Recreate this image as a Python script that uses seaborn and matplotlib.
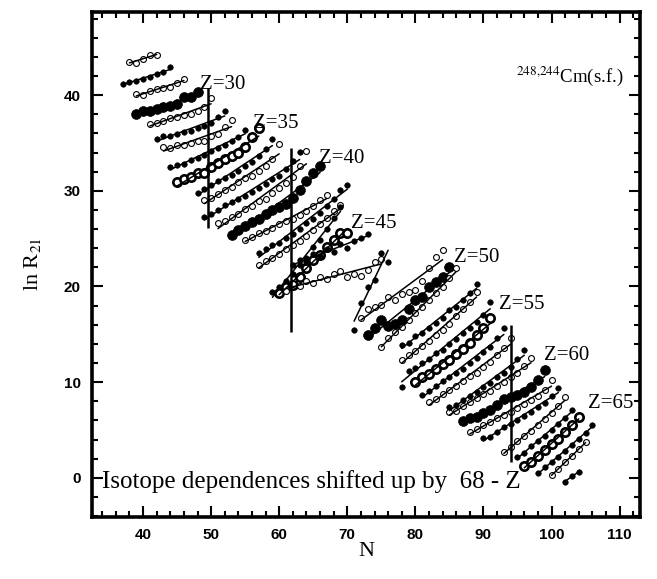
import numpy as np
import pandas as pd
import seaborn as sns
import matplotlib.pyplot as plt
from matplotlib.ticker import MultipleLocator

# isotope chains: proton number, first neutron number, shifted ln R21 values
Z = list(range(27, 69))
N_FIRST = [38, 37, 39, 39, 41, 42, 43, 44, 45, 48,
           49, 49, 51, 53, 55, 57, 57, 59, 60, 62,
           61, 71, 72, 73, 75, 78, 78, 78, 80, 81,
           82, 85, 85, 87, 88, 90, 93, 95, 96, 98,
           100, 102]
LN_R21 = [
    [43.5, 43.4, 43.8, 44.2, 44.2],                                            # 27
    [41.2, 41.4, 41.5, 41.7, 41.9, 42.2, 42.4, 42.9],                          # 28
    [40.1, 40.0, 40.4, 40.6, 40.8, 40.9, 41.3, 41.7],                          # 29
    [38.0, 38.3, 38.4, 38.6, 38.8, 38.9, 39.1, 39.8, 39.8, 40.3],              # 30
    [37.0, 37.1, 37.3, 37.6, 37.7, 37.9, 38.0, 38.3, 38.8, 39.7],              # 31
    [35.4, 35.7, 35.7, 35.9, 36.2, 36.3, 36.6, 36.8, 37.1, 37.7, 38.3],        # 32
    [34.6, 34.5, 34.8, 34.8, 35.0, 35.2, 35.2, 35.7, 35.9, 36.7, 37.4],        # 33
    [32.5, 32.7, 32.8, 33.2, 33.4, 33.8, 34.2, 34.5, 34.8, 35.2, 35.6, 36.4],  # 34
    [30.9, 31.2, 31.5, 31.9, 31.9, 32.5, 32.9, 33.3, 33.6, 34.0, 34.6, 35.6, 36.6],  # 35
    [29.8, 30.2, 30.6, 31.0, 31.3, 31.7, 32.1, 32.6, 33.0, 33.6, 34.4, 35.4],  # 36
    [29.0, 29.3, 29.7, 30.1, 30.4, 30.9, 31.3, 31.6, 32.1, 32.6, 33.3, 34.9],  # 37
    [27.3, 27.6, 28.0, 28.5, 28.8, 29.1, 29.5, 29.9, 30.3, 30.7, 31.2, 31.6, 32.3, 33.1, 34.1],  # 38
    [26.6, 26.9, 27.3, 27.6, 28.1, 28.4, 28.9, 29.2, 29.8, 30.3, 30.8, 31.5, 32.6, 34.2],  # 39
    [25.4, 25.9, 26.3, 26.7, 27.1, 27.6, 28.0, 28.3, 28.6, 29.3, 30.1, 31.0, 31.9, 32.6],  # 40
    [24.9, 25.2, 25.6, 25.8, 26.1, 26.5, 26.8, 27.1, 27.5, 27.9, 28.4, 29.0, 29.6],  # 41
    [23.5, 23.9, 24.3, 24.6, 25.1, 25.5, 26.0, 26.6, 27.1, 27.7, 28.4, 29.2, 30.1, 30.6],  # 42
    [22.3, 22.7, 23.0, 23.4, 23.9, 24.3, 24.8, 25.3, 25.9, 26.5, 27.2, 27.9, 28.5],  # 43
    [19.4, 19.9, 20.6, 21.3, 22.3, 23.0, 24.1, 24.9, 26.0, 27.2, 28.3],        # 44
    [19.3, 19.9, 20.2, 21.0, 21.9, 22.8, 23.3, 24.1, 24.9, 25.6, 25.6],        # 45
    [22.2, 22.8, 22.6, 23.4, 23.2, 23.9, 23.6, 24.4, 24.0, 24.8, 25.1, 25.5],  # 46
    [19.5, 20.3, 20.0, 20.6, 20.4, 21.0, 20.8, 21.3, 21.6, 21.0, 21.3, 21.1, 21.7, 22.6, 22.9],  # 47
    [15.5, 18.3, 19.9, 20.7, 23.5, 22.6],                                      # 48
    [16.7, 17.6, 17.9, 18.1, 18.9, 18.6, 19.2, 19.4, 19.6, 20.6, 21.9, 23.1, 23.8],  # 49
    [14.9, 15.7, 16.5, 15.9, 16.1, 16.5, 17.6, 18.6, 18.9, 19.9, 20.5, 21.0, 22.0],  # 50
    [13.7, 14.6, 15.2, 15.8, 16.5, 17.2, 17.9, 18.6, 19.3, 19.9, 20.9, 21.9],  # 51
    [13.9, 14.1, 14.8, 15.1, 15.7, 16.2, 16.7, 17.5, 17.9, 18.6, 19.3, 20.3],  # 52
    [12.3, 12.8, 13.3, 13.8, 14.3, 14.9, 15.5, 16.1, 16.9, 17.6, 18.4, 19.4],  # 53
    [9.5, 11.2, 11.5, 12.0, 12.4, 13.0, 13.4, 14.0, 14.5, 15.1, 15.7, 16.3, 17.0, 18.4],  # 54
    [10.0, 10.5, 10.9, 11.4, 11.9, 12.3, 12.9, 13.5, 14.1, 14.9, 15.7, 16.7],  # 55
    [8.7, 9.1, 9.6, 10.1, 10.5, 11.0, 11.4, 12.0, 12.5, 13.1, 13.7, 14.6, 15.7],  # 56
    [7.9, 8.2, 8.8, 9.2, 9.6, 10.1, 10.6, 11.0, 11.6, 12.1, 12.8, 13.6, 14.6],  # 57
    [7.4, 7.6, 8.1, 8.6, 9.0, 9.5, 9.9, 10.5, 11.0, 11.6, 12.4, 13.4],         # 58
    [6.9, 7.0, 7.5, 7.9, 8.3, 8.8, 9.1, 9.6, 10.0, 10.5, 11.0, 11.7, 12.5],    # 59
    [5.9, 6.3, 6.4, 6.8, 7.1, 7.6, 8.2, 8.4, 8.7, 9.0, 9.5, 10.2, 11.3],       # 60
    [4.8, 5.1, 5.5, 5.8, 6.2, 6.6, 6.9, 7.3, 7.7, 8.1, 8.6, 9.2, 10.2],        # 61
    [4.2, 4.3, 4.8, 5.3, 5.6, 6.0, 6.5, 6.9, 7.4, 7.8, 8.5, 9.4],              # 62
    [2.7, 3.2, 3.8, 4.4, 4.9, 5.5, 6.1, 6.8, 7.5, 8.4],                        # 63
    [2.2, 2.6, 3.3, 3.8, 4.4, 5.0, 5.6, 6.3, 7.1],                             # 64
    [1.2, 1.7, 2.3, 2.9, 3.5, 4.1, 4.8, 5.5, 6.4],                             # 65
    [0.5, 1.1, 1.6, 2.2, 2.8, 3.4, 4.1, 4.7, 5.5],                             # 66
    [0.3, 0.9, 1.6, 2.3, 3.0, 3.7],                                            # 67
    [-0.4, 0.2, 0.6],                                                          # 68
]

# vertical markers at the neutron shells
SHELL_N = [49.6, 61.7, 94]
SHELL_LO = [26.1, 15.2, 1.7]
SHELL_HI = [40.8, 34.5, 16.0]

# "Z=.." labels
LABEL_Z = [30, 35, 40, 45, 50, 55, 60, 65]
LABEL_N = [48.3, 56.1, 65.9, 70.6, 85.7, 92.3, 98.9, 105.4]
LABEL_Y = [40.6, 36.6, 32.9, 26.1, 22.6, 17.6, 12.3, 7.3]

rows = []
for z, n0, vals in zip(Z, N_FIRST, LN_R21):
    for i, v in enumerate(vals):
        rows.append({"Z": z, "N": n0 + i, "lnR": v})
df = pd.DataFrame(rows)

sns.set_theme(style="ticks", rc={
    "axes.edgecolor": "black", "xtick.color": "black", "ytick.color": "black",
    "text.color": "black", "axes.labelcolor": "black",
})
plt.rcParams['mathtext.fontset'] = 'stix'

fig = plt.figure(figsize=(6.57, 5.79), dpi=100)
ax = fig.add_axes([92 / 657, 62 / 579, 548 / 657, 505 / 579])

for z, g in df.groupby("Z"):
    big = z % 5 == 0
    filled = z % 2 == 0
    if big and filled:
        kw = dict(s=50, color="black", edgecolor="black", linewidth=0.5)
    elif big:
        kw = dict(s=36, color="white", edgecolor="black", linewidth=1.9)
    elif filled:
        kw = dict(s=16, color="black", edgecolor="black", linewidth=0.4)
    else:
        kw = dict(s=18, color="white", edgecolor="black", linewidth=0.8)
    sns.scatterplot(data=g, x="N", y="lnR", marker="o", ax=ax, zorder=2,
                    legend=False, **kw)
    sns.regplot(data=g, x="N", y="lnR", scatter=False, ci=None, ax=ax,
                line_kws=dict(color="black", lw=1.1, zorder=3))

ax.vlines(SHELL_N, SHELL_LO, SHELL_HI, color="black", lw=1.8, zorder=4)

serif = "Liberation Serif"
for z, n, y in zip(LABEL_Z, LABEL_N, LABEL_Y):
    ax.text(n, y, f"Z={z}", family=serif, fontsize=15, ha="left", va="baseline")
ax.text(94.8, 41.4, r"$^{248{,}244}$Cm(s.f.)", family=serif, fontsize=13.5,
        ha="left", va="baseline")
ax.text(33.9, -1.1, "Isotope dependences shifted up by  68 - Z", family=serif,
        fontsize=18, ha="left", va="baseline")

ax.set_xlim(32.5, 113)
ax.set_ylim(-4.1, 48.7)
ax.xaxis.set_major_locator(MultipleLocator(10))
ax.xaxis.set_minor_locator(MultipleLocator(2))
ax.yaxis.set_major_locator(MultipleLocator(10))
ax.yaxis.set_minor_locator(MultipleLocator(2))
ax.tick_params(which="both", direction="in", top=True, right=True, width=1.5,
               labelsize=11, pad=8)
ax.tick_params(which="major", length=8)
ax.tick_params(which="minor", length=4)
for lab in ax.get_xticklabels() + ax.get_yticklabels():
    lab.set_family("Liberation Sans")
    lab.set_fontweight("bold")
for sp in ax.spines.values():
    sp.set_linewidth(2.6)

ax.set_xlabel("N", family=serif, fontsize=16, labelpad=0)
ax.set_ylabel(r"ln R$_{21}$", family=serif, fontsize=16, labelpad=15)

fig.savefig("out.png", dpi=100)
